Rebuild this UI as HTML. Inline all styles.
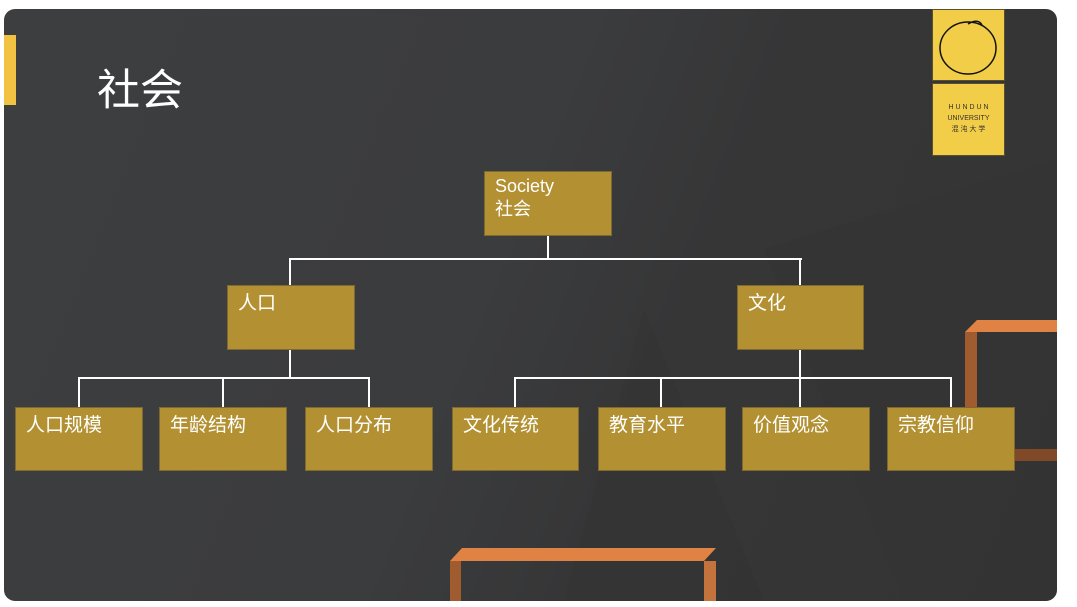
<!DOCTYPE html>
<html><head><meta charset="utf-8"><style>
body{margin:0;width:1077px;height:607px;background:#fff;position:relative;overflow:hidden;font-family:"Liberation Sans","Noto Sans CJK SC",sans-serif}
.panel{position:absolute;left:4px;top:9px;width:1053px;height:592px;border-radius:11px;overflow:hidden;
background:linear-gradient(112deg,#3d3e40 0%,#3b3c3e 45%,#363637 62%,#343434 100%)}
.n{position:absolute;background:#b39132;border:1px solid #7d6a30;box-sizing:border-box;color:#fff;font-size:19px;padding:6px 0 0 10px;line-height:23px}
.l{position:absolute;background:#fff}
.o{position:absolute}
</style></head><body>
<div class="panel">
<svg width="1053" height="592" style="position:absolute;left:0;top:0">
<polygon points="560,592 640,300 760,592" fill="#333333" opacity="0.4"/>
<polygon points="760,240 1053,150 1053,592 900,592" fill="#323232" opacity="0.3"/>
</svg>
</div>
<div style="position:absolute;left:4px;top:35px;width:12px;height:70px;background:#f2c343"></div>
<div style="position:absolute;left:97px;top:66px;color:#fff;font-size:43px;line-height:50px">社会</div>
<!-- logo -->
<div style="position:absolute;left:932px;top:9px;width:73px;height:72px;background:#f2cd47;border:1px solid #5a5030;box-sizing:border-box"></div>
<svg style="position:absolute;left:932px;top:9px" width="73" height="72"><ellipse cx="36" cy="39" rx="28" ry="26" fill="none" stroke="#111" stroke-width="1.5"/><path d="M36 15 q10 -6 14 1" stroke="#111" stroke-width="1.5" fill="none"/></svg>
<div style="position:absolute;left:932px;top:83px;width:73px;height:73px;background:#f2cd47;border:1px solid #5a5030;box-sizing:border-box;color:#333;font-size:7px;text-align:center;line-height:11px;padding-top:18px">H U N D U N<br>UNIVERSITY<br>混 沌 大 学</div>
<!-- orange frames -->
<svg class="o" style="left:0;top:0" width="1077" height="607">
<polygon points="965,332 977,320 1057,320 1057,332" fill="#e08244"/>
<rect x="965" y="332" width="12" height="128" fill="#a05c2e"/>
<rect x="977" y="449" width="80" height="12" fill="#804a28"/>
<polygon points="450,561 462,548 716,548 704,561" fill="#e08244"/>
<rect x="450" y="561" width="11" height="40" fill="#a05c2e"/>
<rect x="704" y="561" width="12" height="40" fill="#c4733c"/>
</svg>
<!-- connectors -->
<div class="l" style="left:547px;top:235px;width:2px;height:25px"></div>
<div class="l" style="left:289px;top:258px;width:513px;height:2px"></div>
<div class="l" style="left:289px;top:258px;width:2px;height:27px"></div>
<div class="l" style="left:799px;top:258px;width:2px;height:27px"></div>
<div class="l" style="left:289px;top:349px;width:2px;height:30px"></div>
<div class="l" style="left:78px;top:377px;width:292px;height:2px"></div>
<div class="l" style="left:78px;top:377px;width:2px;height:30px"></div>
<div class="l" style="left:222px;top:377px;width:2px;height:30px"></div>
<div class="l" style="left:368px;top:377px;width:2px;height:30px"></div>
<div class="l" style="left:799px;top:349px;width:2px;height:58px"></div>
<div class="l" style="left:514px;top:377px;width:438px;height:2px"></div>
<div class="l" style="left:514px;top:377px;width:2px;height:30px"></div>
<div class="l" style="left:660px;top:377px;width:2px;height:30px"></div>
<div class="l" style="left:950px;top:377px;width:2px;height:30px"></div>
<!-- nodes -->
<div class="n" style="left:484px;top:171px;width:128px;height:65px;padding-top:3px;font-size:18px;line-height:23px">Society<br>社会</div>
<div class="n" style="left:227px;top:285px;width:128px;height:65px">人口</div>
<div class="n" style="left:737px;top:285px;width:127px;height:65px">文化</div>
<div class="n" style="left:15px;top:407px;width:128px;height:64px">人口规模</div>
<div class="n" style="left:159px;top:407px;width:128px;height:64px">年龄结构</div>
<div class="n" style="left:305px;top:407px;width:128px;height:64px">人口分布</div>
<div class="n" style="left:452px;top:407px;width:127px;height:64px">文化传统</div>
<div class="n" style="left:598px;top:407px;width:128px;height:64px">教育水平</div>
<div class="n" style="left:742px;top:407px;width:128px;height:64px">价值观念</div>
<div class="n" style="left:887px;top:407px;width:128px;height:64px">宗教信仰</div>
</body></html>
